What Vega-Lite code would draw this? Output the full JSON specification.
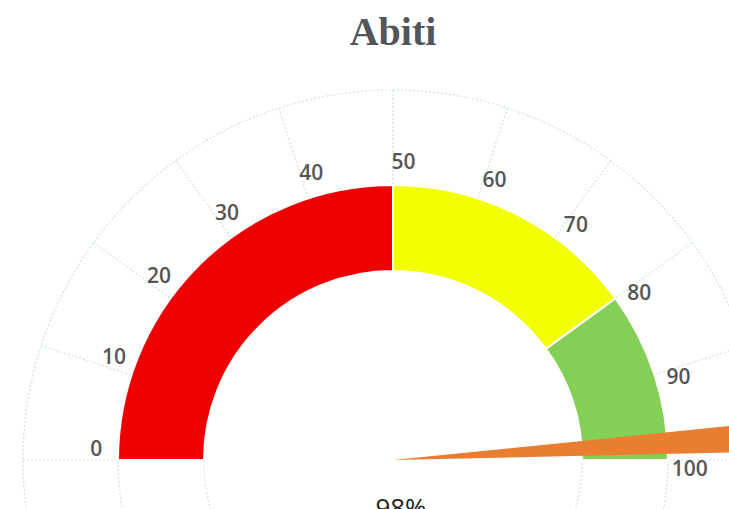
{
  "$schema": "https://vega.github.io/schema/vega-lite/v6.json",
  "autosize": "none",
  "padding": {"left": 57, "top": 411, "right": 0, "bottom": 0},
  "width": 672,
  "height": 98,
  "background": "white",
  "title": {"text": "Abiti", "offset": 35, "font": "Liberation Serif", "fontSize": 40, "fontWeight": "bold", "color": "#52565c", "anchor": "middle", "frame": "group"},
  "config": {"view": {"stroke": null}},
  "datasets": {
    "bands": [
      {"band": "Basso", "start": 0, "end": 50},
      {"band": "Medio", "start": 50, "end": 80},
      {"band": "Alto", "start": 80, "end": 100}
    ],
    "ticks": [
      {"v": 0, "label": "0"}, {"v": 10, "label": "10"}, {"v": 20, "label": "20"},
      {"v": 30, "label": "30"}, {"v": 40, "label": "40"}, {"v": 50, "label": "50"},
      {"v": 60, "label": "60"}, {"v": 70, "label": "70"}, {"v": 80, "label": "80"},
      {"v": 90, "label": "90"}, {"v": 100, "label": "100"}
    ],
    "needle": [
      {"value": 98, "label": "98%", "lo": 96.8, "hi": 99.3}
    ]
  },
  "resolve": {"scale": {"theta": "independent", "color": "independent"}},
  "layer": [
    {
      "data": {"values": [{"ring": "outer"}]},
      "mark": {"type": "arc", "filled": false, "theta": 0, "theta2": 6.2832, "radius": 370, "radius2": 0, "stroke": "#cfe2e8", "strokeWidth": 1.2, "strokeDash": [2, 2]},
      "encoding": {}
    },
    {
      "data": {"values": [{"ring": "middle"}]},
      "mark": {"type": "arc", "filled": false, "theta": 0, "theta2": 6.2832, "radius": 275, "radius2": 0, "stroke": "#cfe2e8", "strokeWidth": 1.2, "strokeDash": [2, 2]},
      "encoding": {}
    },
    {
      "data": {"values": [{"ring": "inner"}]},
      "mark": {"type": "arc", "filled": false, "theta": 0, "theta2": 6.2832, "radius": 189, "radius2": 0, "stroke": "#cfe2e8", "strokeWidth": 1.2, "strokeDash": [2, 2]},
      "encoding": {}
    },
    {
      "data": {"name": "ticks"},
      "mark": {"type": "arc", "filled": false, "radius": 370, "radius2": 275, "stroke": "#cfe2e8", "strokeWidth": 1.2, "strokeDash": [2, 2]},
      "encoding": {
        "theta": {"field": "v", "type": "quantitative", "scale": {"domain": [0, 100], "range": [-1.5708, 1.5708], "zero": false, "nice": false}},
        "theta2": {"field": "v"}
      }
    },
    {
      "data": {"name": "bands"},
      "mark": {"type": "arc", "radius": 275, "radius2": 189, "stroke": "white", "strokeWidth": 2},
      "encoding": {
        "theta": {"field": "start", "type": "quantitative", "scale": {"domain": [0, 100], "range": [-1.5708, 1.5708], "zero": false, "nice": false}},
        "theta2": {"field": "end"},
        "color": {"field": "band", "type": "nominal", "legend": null, "scale": {"domain": ["Basso", "Medio", "Alto"], "range": ["#ee0000", "#f2ff00", "#84cf55"]}}
      }
    },
    {
      "data": {"name": "ticks"},
      "mark": {"type": "text", "radius": 297, "font": "Open Sans", "fontSize": 21, "fontWeight": 600, "color": "#555555", "align": "center", "baseline": "middle"},
      "encoding": {
        "theta": {"field": "v", "type": "quantitative", "scale": {"domain": [0, 100], "range": [-1.5358, 1.6058], "zero": false, "nice": false}},
        "text": {"field": "label", "type": "nominal"}
      }
    },
    {
      "data": {"name": "needle"},
      "mark": {"type": "arc", "radius": 480, "radius2": 0, "color": "#e97d30"},
      "encoding": {
        "theta": {"field": "lo", "type": "quantitative", "scale": {"domain": [0, 100], "range": [-1.5708, 1.5708], "zero": false, "nice": false}},
        "theta2": {"field": "hi"}
      }
    },
    {
      "data": {"name": "needle"},
      "mark": {"type": "text", "font": "Open Sans", "fontSize": 26, "color": "#222222", "align": "center", "baseline": "alphabetic", "dx": 8, "dy": 57},
      "encoding": {
        "text": {"field": "label", "type": "nominal"}
      }
    }
  ]
}
